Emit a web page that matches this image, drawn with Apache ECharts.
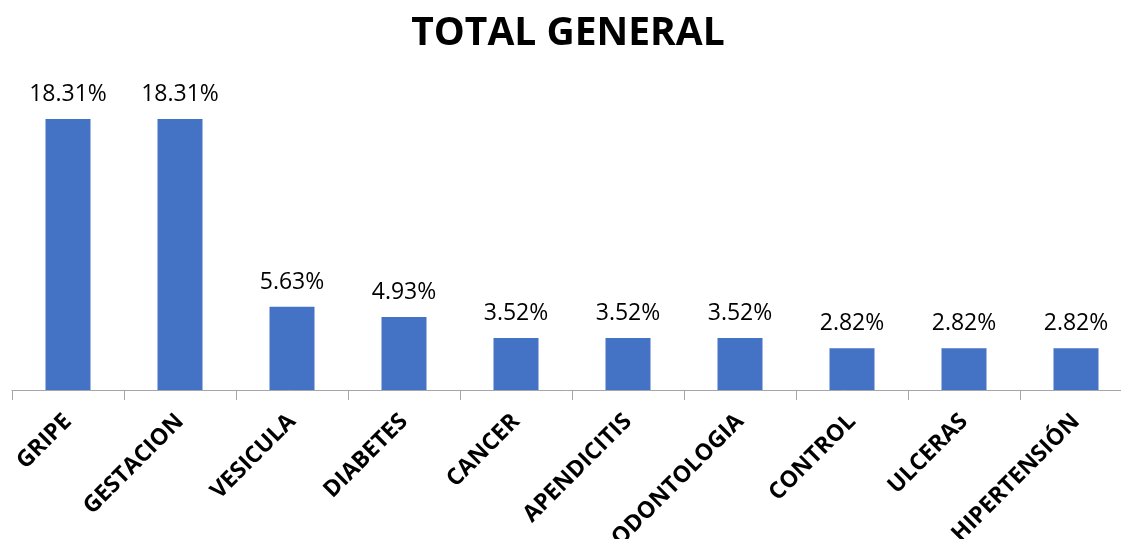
<!DOCTYPE html>
<html>
<head>
<meta charset="utf-8">
<script src="https://cdn.jsdelivr.net/npm/echarts@6/dist/echarts.min.js"></script>
<style>
  html, body { margin: 0; padding: 0; background: #fff; overflow: hidden; }
  #chart { width: 1121px; height: 539px; }
</style>
</head>
<body>
<div id="chart"></div>
<script>
const categories = ['GRIPE', 'GESTACION', 'VESICULA', 'DIABETES', 'CANCER', 'APENDICITIS', 'ODONTOLOGIA', 'CONTROL', 'ULCERAS', 'HIPERTENSIÓN']
const percentages = [18.31, 18.31, 5.63, 4.93, 3.52, 3.52, 3.52, 2.82, 2.82, 2.82]

// plot area runs a bit past the right edge, labels run past the bottom (as in the original)
const myChart = echarts.init(document.getElementById('chart'))
const option = {
  animation: false,
  title: {
    text: 'TOTAL GENERAL',
    left: 563,
    textAlign: 'center',
    top: 9,
    textStyle: {
      fontFamily: 'Open Sans',
      fontWeight: 'bold',
      fontSize: 39,
      color: '#000'
    }
  },
  grid: {
    left: 12,
    width: 1120,
    top: 94,
    height: 296,
    containLabel: false,
    outerBoundsMode: 'none'
  },
  xAxis: {
    type: 'category',
    data: categories,
    axisLine: { show: true, lineStyle: { color: '#A6A6A6', width: 1 } },
    axisTick: { show: true, length: 10, lineStyle: { color: '#A6A6A6' } },
    axisLabel: {
      rotate: 45,
      margin: 28,
      interval: 0,
      color: '#000',
      fontFamily: 'Open Sans',
      fontWeight: 'bold',
      fontSize: 23
    }
  },
  yAxis: {
    type: 'value',
    min: 0,
    max: 20,
    show: false,
    splitLine: { show: false }
  },
  series: [
    {
      type: 'bar',
      data: percentages,
      barWidth: 45,
      itemStyle: { color: '#4472C4' },
      label: {
        show: true,
        position: 'top',
        distance: 13,
        color: '#000',
        fontFamily: 'Open Sans',
        fontSize: 23,
        formatter: function (params) {
          return params.value.toFixed(2) + '%'
        }
      }
    }
  ]
}
myChart.setOption(option)
</script>
</body>
</html>
